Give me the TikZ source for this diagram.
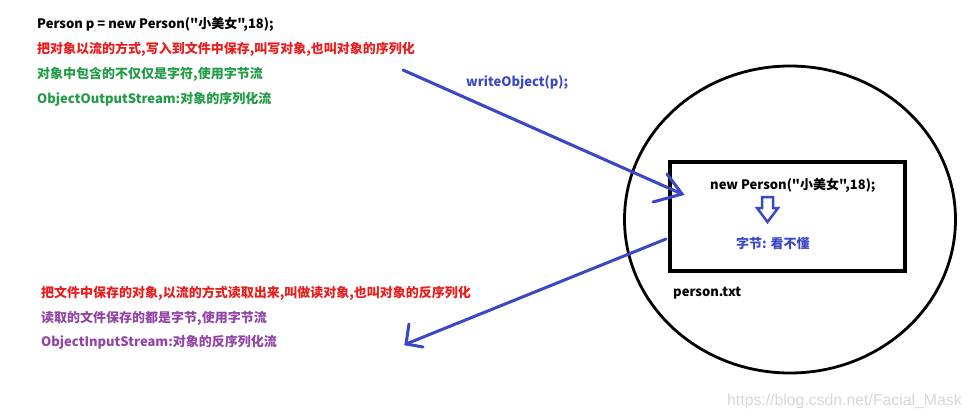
\documentclass[tikz,border=0pt]{standalone}
\usepackage{fontspec}
\newfontfamily\cjkfont{Noto Sans CJK SC}
\newfontfamily\wmfont{Liberation Sans}
\definecolor{cred}{RGB}{235,28,28}
\definecolor{cgreen}{RGB}{34,155,70}
\definecolor{cpurple}{RGB}{145,68,165}
\definecolor{cblue}{RGB}{58,72,200}
\definecolor{cwm}{RGB}{215,215,215}
\tikzset{
  txt/.style={anchor=base west, inner sep=0pt, font=\cjkfont\fontsize{13}{15}\selectfont\bfseries},
  bluearrow/.style={draw=cblue, line width=3pt, line cap=round},
}
\begin{document}
\begin{tikzpicture}[x=1pt,y=-1pt]
\useasboundingbox[fill=white] (0,0) rectangle (972,418);

% left texts, top group
\node[txt] (l1) at (37,28) {Person p = new Person("小美女",18);};
\node[txt,text=cred] (l2) at (37,53) {把对象以流的方式,写入到文件中保存,叫写对象,也叫对象的序列化};
\node[txt,text=cgreen] (l3) at (37,78) {对象中包含的不仅仅是字符,使用字节流};
\node[txt,text=cgreen] (l4) at (37,103) {ObjectOutputStream:对象的序列化流};

% bottom group
\node[txt,text=cred] (l5) at (41,297) {把文件中保存的对象,以流的方式读取出来,叫做读对象,也叫对象的反序列化};
\node[txt,text=cpurple] (l6) at (41,322) {读取的文件保存的都是字节,使用字节流};
\node[txt,text=cpurple] (l7) at (41,346) {ObjectInputStream:对象的反序列化流};

% write label
\node[txt,text=cblue] (wo) at (466,86) {writeObject(p);};

% file circle and box
\draw[line width=2.8pt] (790,219.5) ellipse [x radius=165.5, y radius=153.5];
\node[draw, line width=3.5pt, minimum width=235pt, minimum height=109pt, inner sep=0pt] (box) at (787.5,216.5) {};
\node[txt] (obj) at (710,189) {new Person("小美女",18);};
\draw[cblue, line width=2.5pt, line join=miter]
  (762,197) -- (773,197) -- (773,208) -- (778,208) -- (767.5,222) -- (757,208) -- (762,208) -- cycle;
\node[txt,text=cblue] (bytes) at (736,248) {字节: 看不懂};
\node[txt] (fname) at (673,296) {person.txt};

% arrows
\coordinate (w0) at (403,70);
\coordinate (w1) at (682,194);
\coordinate (w1a) at (667,174);
\coordinate (w1b) at (653,202);
\draw[bluearrow] (w0) -- (w1);
\draw[bluearrow] (w1a) -- (w1) -- (w1b);

\coordinate (r0) at (666,239);
\coordinate (r1) at (406,344);
\coordinate (r1a) at (409,324);
\coordinate (r1b) at (423,347);
\draw[bluearrow] (r0) -- (r1);
\draw[bluearrow] (r1a) -- (r1) -- (r1b);

% watermark
\node[anchor=base west, inner sep=0pt, text=cwm, font=\wmfont\fontsize{15.8}{17}\selectfont] (wm) at (727,405) {https://blog.csdn.net/Facial\_Mask};
\end{tikzpicture}
\end{document}
